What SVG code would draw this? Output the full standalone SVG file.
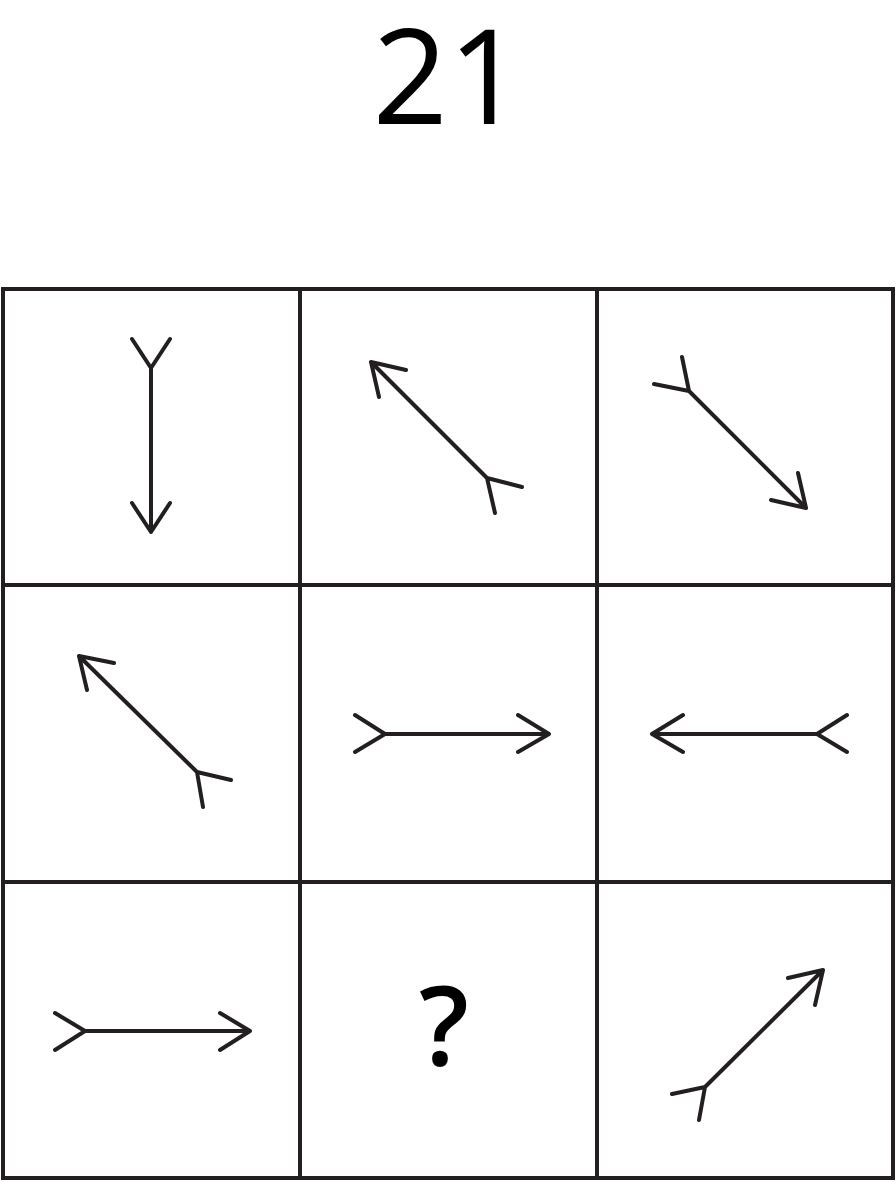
<svg xmlns="http://www.w3.org/2000/svg" width="896" height="1182" viewBox="0 0 896 1182">
<style>
.grid{fill:none;stroke:#231f20;stroke-width:4}
.arr{fill:none;stroke:#231f20;stroke-width:4;stroke-linecap:round;stroke-linejoin:round}
.title{font-family:"Open Sans","Noto Sans",sans-serif;font-size:132px;fill:#000;text-anchor:middle}
.q{font-family:"Open Sans","Noto Sans",sans-serif;font-weight:600;font-size:110px;fill:#000;text-anchor:middle}
</style>
<rect width="896" height="1182" fill="#fff"/>
<text id="title" class="title" x="448" y="124">21</text>
<g id="grid" class="grid">
<rect x="3" y="289" width="890" height="889"/>
<line x1="300" y1="289" x2="300" y2="1178"/>
<line x1="597" y1="289" x2="597" y2="1178"/>
<line x1="3" y1="585" x2="893" y2="585"/>
<line x1="3" y1="882" x2="893" y2="882"/>
</g>
<g id="connectors" class="arr">
<g id="cell1"><path d="M132 339 L151 368 L170 339 M151 368 L151 532 M132 503 L151 532 L170 503"/></g>
<g id="cell2"><path d="M406 370 L371 362 L379 397 M371 362 L487 478 M522 487 L487 478 L495 513"/></g>
<g id="cell3"><path d="M654 384 L689 391 L682 357 M689 391 L806 508 M771 500 L806 508 L798 473"/></g>
<g id="cell4"><path d="M114 663 L79 656 L87 690 M79 656 L197 772 M231 780 L197 772 L203 807"/></g>
<g id="cell5"><path d="M355 715 L385 734 L355 752 M385 734 L549 734 M518 715 L549 734 L518 752"/></g>
<g id="cell6"><path d="M683 715 L652 734 L683 752 M652 734 L817 734 M847 715 L817 734 L847 752"/></g>
<g id="cell7"><path d="M55 1013 L85 1031 L55 1050 M85 1031 L250 1031 M220 1013 L250 1031 L220 1050"/></g>
<g id="cell9"><path d="M788 978 L823 970 L815 1005 M823 970 L705 1087 M672 1094 L705 1087 L699 1120"/></g>
</g>
<text id="question" class="q" x="444" y="1066">?</text>
</svg>
